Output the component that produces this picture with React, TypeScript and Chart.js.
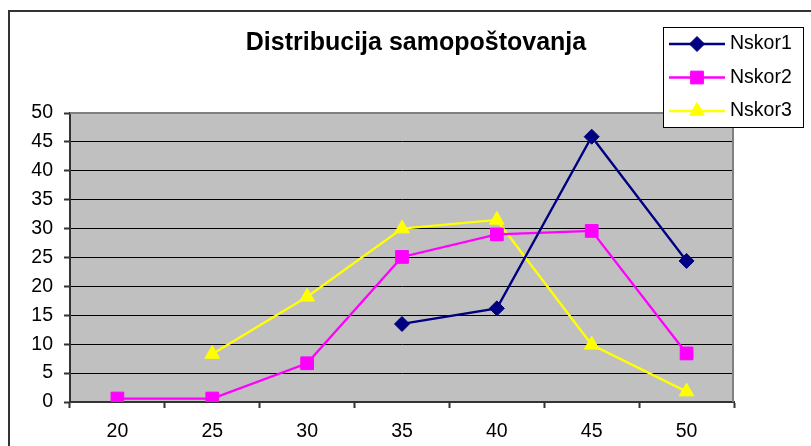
import { useEffect, useRef } from 'react';
import { Chart, registerables } from 'chart.js';

Chart.register(...registerables);

const titleText = 'Distribucija samopoštovanja';
const categories = ['20', '25', '30', '35', '40', '45', '50'];
const seriesNames = ['Nskor1', 'Nskor2', 'Nskor3'];
const nskor1 = [null, null, null, 13.5, 16.2, 45.9, 24.4];
const nskor2 = [0.6, 0.6, 6.7, 25.1, 29.0, 29.6, 8.4];
const nskor3 = [null, 8.3, 18.2, 30.0, 31.5, 9.9, 1.8];
const yMin = 0;
const yMax = 50;
const yStep = 5;

const FONT = '"Liberation Sans", Arial, sans-serif';

function drawMarker(ctx: CanvasRenderingContext2D, style: string, x: number, y: number, r: number) {
  ctx.beginPath();
  if (style === 'rectRot') {
    ctx.moveTo(x - r, y);
    ctx.lineTo(x, y - r);
    ctx.lineTo(x + r, y);
    ctx.lineTo(x, y + r);
  } else if (style === 'rect') {
    const s = Math.SQRT1_2 * r;
    ctx.rect(x - s, y - s, 2 * s, 2 * s);
  } else if (style === 'triangle') {
    let rad = 0;
    ctx.moveTo(x + Math.sin(rad) * r, y - Math.cos(rad) * r);
    rad += (2 * Math.PI) / 3;
    ctx.lineTo(x + Math.sin(rad) * r, y - Math.cos(rad) * r);
    rad += (2 * Math.PI) / 3;
    ctx.lineTo(x + Math.sin(rad) * r, y - Math.cos(rad) * r);
  }
  ctx.closePath();
  ctx.fill();
  ctx.stroke();
}

const decorPlugin = {
  id: 'decor',
  beforeDraw(chart: any) {
    const { ctx, chartArea } = chart;
    ctx.save();
    ctx.fillStyle = '#ffffff';
    ctx.fillRect(0, 0, chart.width, chart.height);
    ctx.strokeStyle = '#333333';
    ctx.lineWidth = 2;
    ctx.beginPath();
    ctx.moveTo(9, chart.height + 5);
    ctx.lineTo(9, 11);
    ctx.lineTo(chart.width + 5, 11);
    ctx.stroke();
    ctx.fillStyle = '#C0C0C0';
    ctx.fillRect(chartArea.left, chartArea.top, chartArea.right - chartArea.left, chartArea.bottom - chartArea.top);
    ctx.restore();
  },
  beforeDatasetsDraw(chart: any) {
    const { ctx, chartArea } = chart;
    ctx.save();
    ctx.strokeStyle = '#808080';
    ctx.lineWidth = 2;
    ctx.beginPath();
    ctx.moveTo(chartArea.left, chartArea.top);
    ctx.lineTo(chartArea.right - 1, chartArea.top);
    ctx.lineTo(chartArea.right - 1, chartArea.bottom);
    ctx.stroke();
    ctx.restore();
  },
  afterDraw(chart: any) {
    const { ctx } = chart;
    ctx.save();
    ctx.fillStyle = '#000';
    ctx.font = `bold 25px ${FONT}`;
    ctx.textAlign = 'center';
    ctx.textBaseline = 'middle';
    ctx.fillText(titleText, 416, 43);
    const bx = 663.5, by = 27.5, bw = 140, bh = 100;
    ctx.fillStyle = '#ffffff';
    ctx.fillRect(bx, by, bw, bh);
    ctx.strokeStyle = '#000';
    ctx.lineWidth = 1;
    ctx.strokeRect(bx, by, bw, bh);
    chart.data.datasets.forEach((ds: any, i: number) => {
      const y = 44 + i * 33.5;
      ctx.strokeStyle = ds.borderColor;
      ctx.lineWidth = ds.borderWidth;
      ctx.beginPath();
      ctx.moveTo(669, y);
      ctx.lineTo(725, y);
      ctx.stroke();
      ctx.fillStyle = ds.pointBackgroundColor;
      ctx.strokeStyle = ds.pointBorderColor;
      ctx.lineWidth = ds.pointBorderWidth;
      drawMarker(ctx, ds.pointStyle, 697, y, ds.pointRadius);
      ctx.fillStyle = '#000';
      ctx.font = `19.5px ${FONT}`;
      ctx.textAlign = 'left';
      ctx.textBaseline = 'middle';
      ctx.fillText(ds.label, 730, y);
    });
    ctx.restore();
  },
};

export default function App() {
  const canvasRef = useRef<HTMLCanvasElement | null>(null);

  useEffect(() => {
    document.body.style.overflow = 'hidden';
    const canvas = canvasRef.current;
    if (!canvas) return;
    const mk = (label: string, data: (number | null)[], color: string, style: string, r: number) => ({
      label,
      data,
      borderColor: color,
      backgroundColor: color,
      borderWidth: 2.3,
      pointStyle: style,
      pointRadius: r,
      pointHoverRadius: r,
      pointBackgroundColor: color,
      pointBorderColor: color,
      pointBorderWidth: 1,
      tension: 0,
      spanGaps: false,
    });
    const chart = new Chart(canvas, {
      type: 'line',
      data: {
        labels: categories,
        datasets: [
          mk(seriesNames[0], nskor1, '#000080', 'rectRot', 7.5),
          mk(seriesNames[1], nskor2, '#FF00FF', 'rect', 9),
          mk(seriesNames[2], nskor3, '#FFFF00', 'triangle', 8.5),
        ],
      },
      options: {
        responsive: false,
        animation: false,
        devicePixelRatio: 1,
        layout: { padding: { top: 113, right: 77, left: 0, bottom: 0 } },
        plugins: {
          legend: { display: false },
          title: { display: false },
          tooltip: { enabled: false },
        },
        scales: {
          x: {
            type: 'category',
            offset: true,
            afterFit: (scale: any) => {
              scale.height = 44;
            },
            grid: {
              offset: true,
              drawOnChartArea: false,
              drawTicks: true,
              tickLength: 6,
              tickColor: '#333333',
              tickWidth: 2,
            },
            border: { display: true, color: '#333333', width: 2 },
            ticks: {
              color: '#000',
              font: { family: FONT, size: 19.5 },
              padding: 12,
              maxRotation: 0,
              autoSkip: false,
            },
          },
          y: {
            min: yMin,
            max: yMax,
            afterFit: (scale: any) => {
              scale.width = 70;
            },
            grid: {
              color: (c: any) => (c.tick && c.tick.value === yMax ? '#808080' : '#000000'),
              lineWidth: 1,
              drawTicks: true,
              tickLength: 6,
              tickColor: '#333333',
              tickWidth: 2,
            },
            border: { display: true, color: '#333333', width: 2 },
            ticks: {
              stepSize: yStep,
              color: '#000',
              font: { family: FONT, size: 19.5 },
              padding: 11,
            },
          },
        },
      },
      plugins: [decorPlugin],
    } as any);
    return () => chart.destroy();
  }, []);

  return (
    <div style={{ position: 'fixed', left: 0, top: 0, width: 811, height: 446, overflow: 'hidden', background: '#fff' }}>
      <canvas ref={canvasRef} width={811} height={446} style={{ display: 'block', width: 811, height: 446 }} />
    </div>
  );
}
